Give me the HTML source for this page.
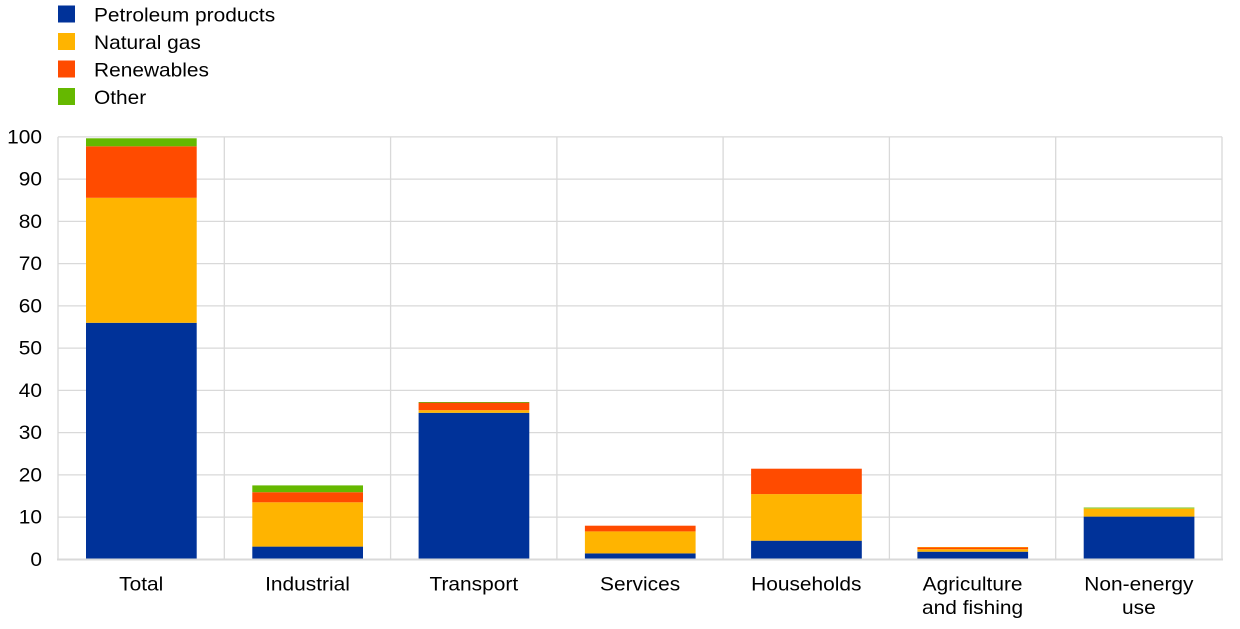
<!DOCTYPE html>
<html>
<head>
<meta charset="utf-8">
<style>
html,body{margin:0;padding:0;background:#fff;}
svg{display:block;}
text{font-family:"Liberation Sans",Arial,sans-serif;fill:#000;}
</style>
</head>
<body>
<svg width="1240" height="629" viewBox="0 0 1240 629" xmlns="http://www.w3.org/2000/svg">
<!-- legend -->
<rect x="58" y="5.5" width="17" height="17" fill="#003299"/>
<rect x="58" y="33" width="17" height="17" fill="#FFB400"/>
<rect x="58" y="60.5" width="17" height="17" fill="#FF4B00"/>
<rect x="58" y="88" width="17" height="17" fill="#65B800"/>
<g font-size="19">
<text transform="translate(94,21.5) scale(1.1,1)">Petroleum products</text>
<text transform="translate(94,49) scale(1.1,1)">Natural gas</text>
<text transform="translate(94,76.5) scale(1.1,1)">Renewables</text>
<text transform="translate(94,104) scale(1.1,1)">Other</text>
</g>

<!-- gridlines -->
<g stroke="#d9d9d9" stroke-width="1.3" fill="none">
<line x1="58" y1="136.9" x2="1222" y2="136.9"/>
<line x1="58" y1="179.1" x2="1222" y2="179.1"/>
<line x1="58" y1="221.4" x2="1222" y2="221.4"/>
<line x1="58" y1="263.6" x2="1222" y2="263.6"/>
<line x1="58" y1="305.9" x2="1222" y2="305.9"/>
<line x1="58" y1="348.1" x2="1222" y2="348.1"/>
<line x1="58" y1="390.4" x2="1222" y2="390.4"/>
<line x1="58" y1="432.6" x2="1222" y2="432.6"/>
<line x1="58" y1="474.9" x2="1222" y2="474.9"/>
<line x1="58" y1="517.1" x2="1222" y2="517.1"/>
<line x1="224.3" y1="136.9" x2="224.3" y2="559.3"/>
<line x1="390.6" y1="136.9" x2="390.6" y2="559.3"/>
<line x1="556.9" y1="136.9" x2="556.9" y2="559.3"/>
<line x1="723.1" y1="136.9" x2="723.1" y2="559.3"/>
<line x1="889.4" y1="136.9" x2="889.4" y2="559.3"/>
<line x1="1055.7" y1="136.9" x2="1055.7" y2="559.3"/>
<line x1="1222" y1="136.9" x2="1222" y2="559.3"/>
<line x1="58" y1="136.9" x2="58" y2="560"/>
</g>

<!-- bars -->
<g>
<!-- Total -->
<rect x="86" y="322.8" width="110.7" height="236.5" fill="#003299"/>
<rect x="86" y="197.8" width="110.7" height="125.0" fill="#FFB400"/>
<rect x="86" y="146.3" width="110.7" height="51.5" fill="#FF4B00"/>
<rect x="86" y="138.3" width="110.7" height="8.0" fill="#65B800"/>
<!-- Industrial -->
<rect x="252.3" y="546.6" width="110.7" height="12.7" fill="#003299"/>
<rect x="252.3" y="502.3" width="110.7" height="44.3" fill="#FFB400"/>
<rect x="252.3" y="492.2" width="110.7" height="10.1" fill="#FF4B00"/>
<rect x="252.3" y="485.4" width="110.7" height="6.8" fill="#65B800"/>
<!-- Transport -->
<rect x="418.6" y="412.8" width="110.7" height="146.5" fill="#003299"/>
<rect x="418.6" y="410.2" width="110.7" height="2.6" fill="#FFB400"/>
<rect x="418.6" y="403.0" width="110.7" height="7.2" fill="#FF4B00"/>
<rect x="418.6" y="402.0" width="110.7" height="1.0" fill="#8a9a10"/>
<!-- Services -->
<rect x="584.9" y="553.4" width="110.7" height="5.9" fill="#003299"/>
<rect x="584.9" y="531.4" width="110.7" height="22.0" fill="#FFB400"/>
<rect x="584.9" y="525.7" width="110.7" height="5.7" fill="#FF4B00"/>
<!-- Households -->
<rect x="751.1" y="540.7" width="110.7" height="18.6" fill="#003299"/>
<rect x="751.1" y="494.1" width="110.7" height="46.6" fill="#FFB400"/>
<rect x="751.1" y="468.7" width="110.7" height="25.4" fill="#FF4B00"/>
<!-- Agriculture -->
<rect x="917.4" y="551.7" width="110.7" height="7.6" fill="#003299"/>
<rect x="917.4" y="549.2" width="110.7" height="2.5" fill="#FFB400"/>
<rect x="917.4" y="547.5" width="110.7" height="1.7" fill="#FF4B00"/>
<rect x="917.4" y="547.0" width="110.7" height="0.5" fill="#FFB400"/>
<!-- Non-energy -->
<rect x="1083.7" y="516.6" width="110.7" height="42.7" fill="#003299"/>
<rect x="1083.7" y="508.6" width="110.7" height="8.0" fill="#FFB400"/>
<rect x="1083.7" y="507.4" width="110.7" height="1.2" fill="#8fcf40"/>
</g>

<!-- x axis -->
<line x1="57" y1="559.5" x2="1223" y2="559.5" stroke="#d9d9d9" stroke-width="2"/>

<!-- y tick labels -->
<g font-size="19" text-anchor="end">
<text transform="translate(42,143.4) scale(1.1,1)">100</text>
<text transform="translate(42,185.6) scale(1.1,1)">90</text>
<text transform="translate(42,227.9) scale(1.1,1)">80</text>
<text transform="translate(42,270.1) scale(1.1,1)">70</text>
<text transform="translate(42,312.4) scale(1.1,1)">60</text>
<text transform="translate(42,354.6) scale(1.1,1)">50</text>
<text transform="translate(42,396.9) scale(1.1,1)">40</text>
<text transform="translate(42,439.1) scale(1.1,1)">30</text>
<text transform="translate(42,481.4) scale(1.1,1)">20</text>
<text transform="translate(42,523.6) scale(1.1,1)">10</text>
<text transform="translate(42,565.9) scale(1.1,1)">0</text>
</g>

<!-- category labels -->
<g font-size="19" text-anchor="middle">
<text transform="translate(141.2,590.5) scale(1.1,1)">Total</text>
<text transform="translate(307.5,590.5) scale(1.1,1)">Industrial</text>
<text transform="translate(473.8,590.5) scale(1.1,1)">Transport</text>
<text transform="translate(640.1,590.5) scale(1.1,1)">Services</text>
<text transform="translate(806.3,590.5) scale(1.1,1)">Households</text>
<text transform="translate(972.6,590.5) scale(1.1,1)">Agriculture</text>
<text transform="translate(972.6,614) scale(1.1,1)">and fishing</text>
<text transform="translate(1138.9,590.5) scale(1.1,1)">Non-energy</text>
<text transform="translate(1138.9,614) scale(1.1,1)">use</text>
</g>
</svg>
</body>
</html>
